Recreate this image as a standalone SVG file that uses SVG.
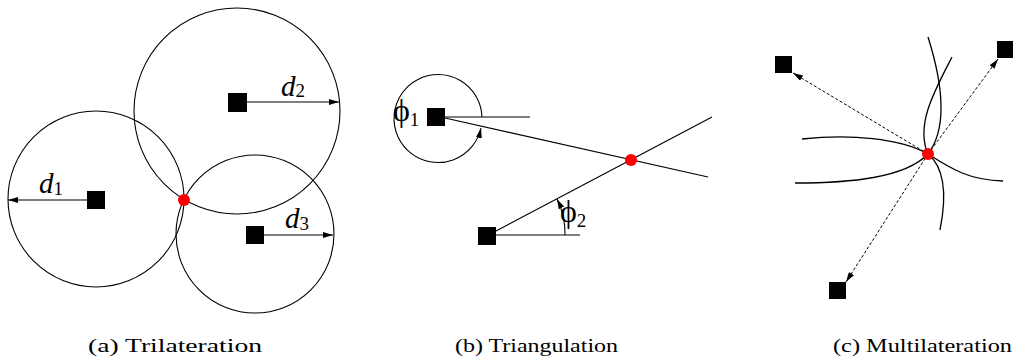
<svg xmlns="http://www.w3.org/2000/svg" width="1013" height="362" viewBox="0 0 1013 362">
<style>
.ln{fill:none;stroke:#000;stroke-width:1.1}
.cv{fill:none;stroke:#000;stroke-width:1.3}
.ds{fill:none;stroke:#000;stroke-width:1;stroke-dasharray:3,2}
.sq{fill:#000}
.dot{fill:#ff0000}
.lab{font-family:"Liberation Serif","DejaVu Serif",serif;fill:#000}
.it{font-style:italic}
.cap{font-family:"Liberation Serif","DejaVu Serif",serif;font-size:19px;fill:#000}
</style>
<defs>
<marker id="ah" viewBox="0 0 10 6" refX="10" refY="3" markerWidth="10" markerHeight="6" markerUnits="userSpaceOnUse" orient="auto">
<path d="M0,0 L10,3 L0,6 Z" fill="#000"/>
</marker>
</defs>

<!-- (a) Trilateration -->
<g id="panel-a">
<g id="a-circles">
<circle class="ln" cx="96" cy="199" r="88"/>
<circle class="ln" cx="237" cy="111" r="103"/>
<circle class="ln" cx="255" cy="234" r="79"/>
</g>
<g id="a-connectors">
<line class="ln" x1="87" y1="200" x2="8" y2="200" marker-end="url(#ah)"/>
<line class="ln" x1="247" y1="102" x2="339" y2="102" marker-end="url(#ah)"/>
<line class="ln" x1="264" y1="235" x2="333" y2="235" marker-end="url(#ah)"/>
</g>
<g id="a-anchor1"><rect class="sq" x="87" y="191" width="18" height="18"/></g>
<g id="a-anchor2"><rect class="sq" x="228" y="93" width="19" height="19"/></g>
<g id="a-anchor3"><rect class="sq" x="246" y="226" width="18" height="18"/></g>
<g id="a-target"><circle class="dot" cx="184" cy="200" r="6"/></g>
<text class="lab" x="39" y="193" style="font-size:29px"><tspan class="it">d</tspan><tspan style="font-size:19px" dy="2">1</tspan></text>
<text class="lab" x="281" y="96" style="font-size:29px"><tspan class="it">d</tspan><tspan style="font-size:19px" dy="1">2</tspan></text>
<text class="lab" x="285" y="228" style="font-size:29px"><tspan class="it">d</tspan><tspan style="font-size:19px" dy="2">3</tspan></text>
</g>

<!-- (b) Triangulation -->
<g id="panel-b">
<g id="b-connectors">
<line class="ln" x1="445" y1="117" x2="530" y2="117"/>
<line class="ln" x1="445" y1="118" x2="708" y2="177"/>
<line class="ln" x1="496" y1="235" x2="580" y2="235"/>
<line class="ln" x1="496" y1="231" x2="712" y2="117"/>
<path class="ln" d="M482,117 A44,44 0 1 0 481,128" marker-end="url(#ah)"/>
<path class="ln" d="M565,235 A78,78 0 0 0 557,199" marker-end="url(#ah)"/>
</g>
<g id="b-anchor1"><rect class="sq" x="427" y="108" width="18" height="18"/></g>
<g id="b-anchor2"><rect class="sq" x="478" y="227" width="18" height="18"/></g>
<g id="b-target"><circle class="dot" cx="631" cy="160" r="6"/></g>
<text class="lab" x="393" y="121" style="font-size:32px">ϕ<tspan style="font-size:19px" dy="5">1</tspan></text>
<text class="lab" x="560" y="222" style="font-size:32px">ϕ<tspan style="font-size:19px" dy="5">2</tspan></text>
</g>

<!-- (c) Multilateration -->
<g id="panel-c">
<g id="c-curves">
<path class="cv" d="M802,139 C850,134 900,138 928,154"/>
<path class="cv" d="M795,183 C850,183 905,178 928,154"/>
<path class="cv" d="M928,154 C950,168 968,180 1003,181"/>
<path class="cv" d="M928,154 C945,168 947,195 940,230"/>
<path class="cv" d="M928,37 C940,75 950,125 928,154"/>
<path class="cv" d="M952,57 C935,90 915,125 928,154"/>
</g>
<g id="c-connectors">
<line class="ds" x1="928" y1="154" x2="793" y2="73" marker-end="url(#ah)"/>
<line class="ds" x1="928" y1="154" x2="998" y2="59" marker-end="url(#ah)"/>
<line class="ds" x1="928" y1="154" x2="846" y2="282" marker-end="url(#ah)"/>
</g>
<g id="c-anchor1"><rect class="sq" x="775" y="56" width="17" height="17"/></g>
<g id="c-anchor2"><rect class="sq" x="997" y="41" width="17" height="17"/></g>
<g id="c-anchor3"><rect class="sq" x="829" y="282" width="17" height="17"/></g>
<g id="c-target"><circle class="dot" cx="928" cy="154" r="6"/></g>
</g>

<g id="captions">
<text class="cap" x="88" y="352" textLength="174" lengthAdjust="spacingAndGlyphs">(a) Trilateration</text>
<text class="cap" x="455" y="352" textLength="163" lengthAdjust="spacingAndGlyphs">(b) Triangulation</text>
<text class="cap" x="833" y="352" textLength="179" lengthAdjust="spacingAndGlyphs">(c) Multilateration</text>
</g>
</svg>
